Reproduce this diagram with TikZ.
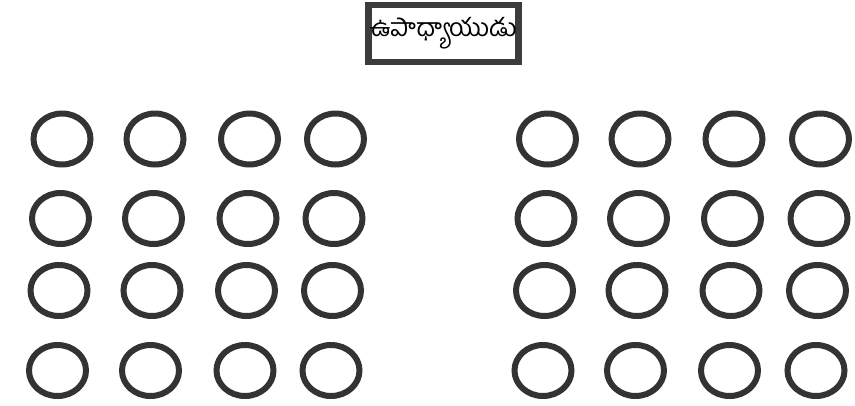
\documentclass[tikz,border=0pt]{standalone}
\usepackage{fontspec}
\newfontfamily\telugufont[Script=Telugu]{Hind Guntur}
\usetikzlibrary{shapes.geometric}
\definecolor{ink}{HTML}{333333}
\definecolor{boxink}{HTML}{3C3C3C}
\begin{document}
\begin{tikzpicture}[x=1pt,y=-1pt,
  seat/.style={ellipse,draw=ink,line width=6pt,minimum width=57pt,minimum height=51pt,inner sep=0pt},
  teacher/.style={draw=boxink,line width=6.5pt,minimum width=150pt,minimum height=57pt,inner sep=0pt,font=\telugufont\fontsize{25}{30}\selectfont}]
\useasboundingbox (0,0) rectangle (855,405);
\node[teacher] (t) at (443.5,33.5) {ఉపాధ్యాయుడు};
\foreach \r/\y/\o in {1/139/0,2/218.5/-1.5,3/290.5/-3,4/370.5/-4.5}{
  \foreach \c/\x in {1/62,2/155,3/249.5,4/335.5}{
    \node[seat] (l\r\c) at (\x+\o,\y) {};
  }
  \foreach \c/\x in {1/547.5,2/640,3/734,4/820.5}{
    \node[seat] (r\r\c) at (\x+\o,\y) {};
  }
}
\end{tikzpicture}
\end{document}
